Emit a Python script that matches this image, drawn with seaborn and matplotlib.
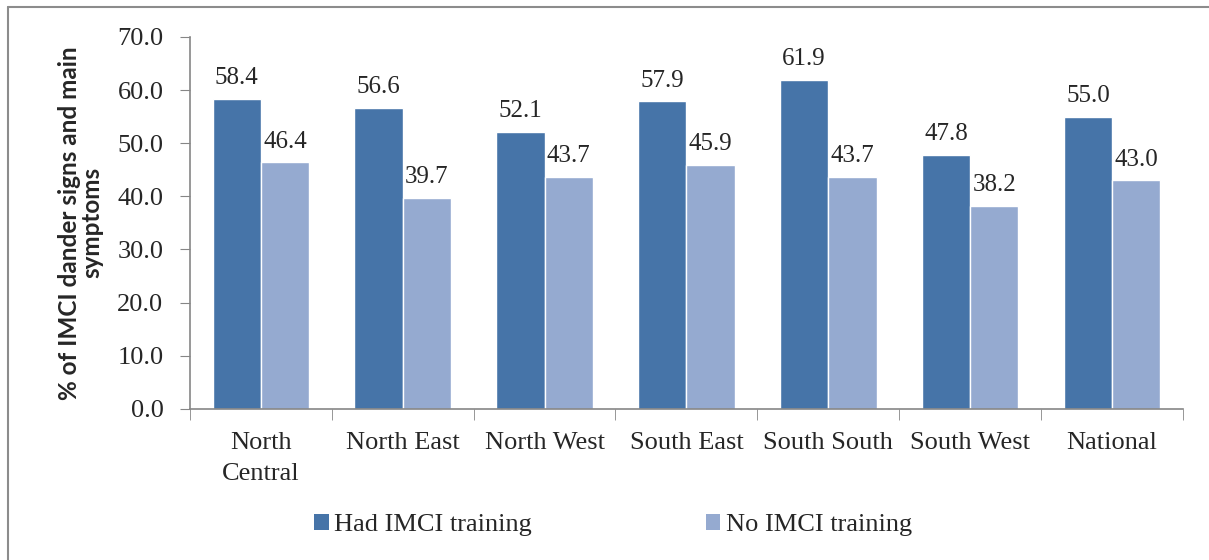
import pandas as pd
import seaborn as sns
import matplotlib.pyplot as plt
from matplotlib.lines import Line2D
from matplotlib.patches import Patch

regions = ["North\nCentral", "North East", "North West", "South East",
           "South South", "South West", "National"]
had_training = [58.4, 56.6, 52.1, 57.9, 61.9, 47.8, 55.0]
no_training = [46.4, 39.7, 43.7, 45.9, 43.7, 38.2, 43.0]
groups = ["Had IMCI training", "No IMCI training"]
colors = ["#4674A8", "#95AAD0"]

df = pd.DataFrame({
    "region": regions * 2,
    "pct": had_training + no_training,
    "group": [groups[0]] * len(regions) + [groups[1]] * len(regions),
})

sns.set_style("white")
plt.rcParams["font.family"] = ["Liberation Serif", "DejaVu Serif"]

fig = plt.figure(figsize=(12.09, 5.6), dpi=100)
ax = fig.add_axes([0.157, 0.27, 0.8215, 0.664])

sns.barplot(data=df, x="region", y="pct", hue="group", palette=colors,
            saturation=1, width=0.68, gap=0, ax=ax, legend=False)

for cont in ax.containers:
    ax.bar_label(cont, fmt="%.1f", padding=7, fontsize=18)

ax.set_ylim(0, 70)
ax.set_xlim(-0.5, len(regions) - 0.5)
ax.set_yticks(range(0, 71, 10))
ax.set_yticklabels([f"{v:.1f}" for v in range(0, 71, 10)], fontsize=19)
ax.tick_params(axis="x", length=0, labelsize=19, pad=17)
ax.tick_params(axis="y", length=7, color="#868686", direction="out", pad=12)
ax.set_xticks([i - 0.5 for i in range(len(regions) + 1)], minor=True)
ax.tick_params(axis="x", which="minor", length=8, color="#868686", direction="out")
ax.yaxis.set_ticks_position("left")
ax.xaxis.set_ticks_position("bottom")
for lab in ax.get_xticklabels():
    lab.set_linespacing(1.5)

for s in ["top", "right"]:
    ax.spines[s].set_visible(False)
for s in ["left", "bottom"]:
    ax.spines[s].set_color("#868686")
    ax.spines[s].set_linewidth(1.2)

ax.set_xlabel("")
ax.set_ylabel("% of IMCI dander signs and main\nsymptoms", fontsize=17.5,
              fontweight="bold", family="Lato", labelpad=10,
              linespacing=0.95)

handles = [Patch(facecolor=c, edgecolor="none") for c in colors]
fig.legend(handles, groups, loc="center", bbox_to_anchor=(0.507, 0.0625), ncol=2,
           frameon=False, fontsize=19, handlelength=0.55, handleheight=0.55,
           handletextpad=0.2, columnspacing=6.6)

# outer frame of the chart box
fig.add_artist(Line2D([7.5 / 1209, 7.5 / 1209], [0, 1 - 6.5 / 560],
                      color="#8c8c8c", lw=1.5, transform=fig.transFigure))
fig.add_artist(Line2D([7.5 / 1209, 1], [1 - 6.5 / 560, 1 - 6.5 / 560],
                      color="#8c8c8c", lw=1.5, transform=fig.transFigure))

fig.savefig("out.png", dpi=100)
